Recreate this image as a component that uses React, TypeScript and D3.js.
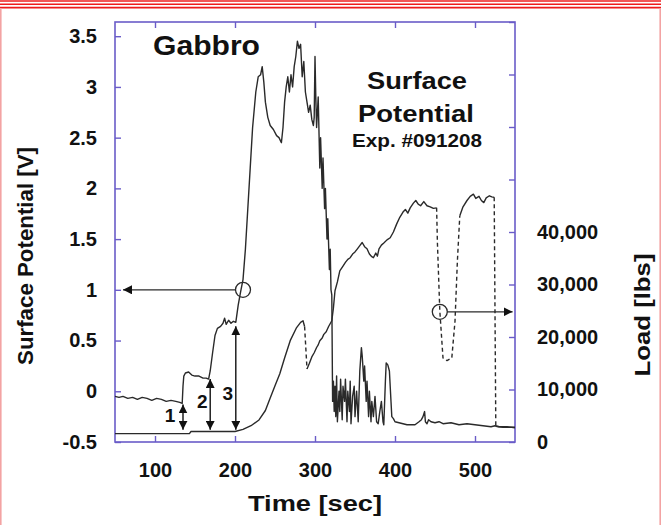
import * as d3 from 'd3';
import React, { useRef, useEffect } from 'react';

const width = 661;
const height = 525;
const frame = { left: 115, right: 515, top: 22, bottom: 442 };
const axisColor = '#6a5cc8';
const lineColor = '#2a2a2a';
const font = '"Liberation Sans", Arial, Helvetica, sans-serif';

const timeDomain = [50, 550];
const potentialDomain = [-0.5, 3.64];
const loadDomain = [0, 80000];

const timeTicks = [100, 200, 300, 400, 500];
const potentialTicks = [-0.5, 0, 0.5, 1, 1.5, 2, 2.5, 3, 3.5];
const loadTicks = [0, 10000, 20000, 30000, 40000, 50000, 60000, 70000, 80000];
const loadLabelMax = 40000;

// surface potential [V] against time [sec]
const potential: [number, number][] = [
  [50, -0.05], [55, -0.06], [60, -0.05], [66, -0.07], [72, -0.06], [78, -0.08], [84, -0.06],
  [90, -0.07], [96, -0.09], [102, -0.07], [108, -0.08], [114, -0.1], [120, -0.09], [126, -0.1],
  [131, -0.11], [134, -0.12], [135, 0.05], [136, 0.15], [138, 0.18], [142, 0.19], [146, 0.16],
  [150, 0.15], [155, 0.15], [160, 0.13], [164, 0.13], [167, 0.12], [169, 0.2], [172, 0.38],
  [175, 0.55], [178, 0.62], [182, 0.64], [185, 0.67], [187, 0.72], [189, 0.66], [192, 0.7],
  [195, 0.67], [198, 0.69], [201, 0.68], [204, 0.85], [207, 0.98], [210, 1.1], [213, 1.4],
  [216, 1.8], [219, 2.2], [222, 2.6], [226, 2.95], [229, 3.1], [232, 3.12], [234, 3.2],
  [236, 3.05], [238, 2.85], [241, 2.7], [244, 2.62], [248, 2.58], [252, 2.52], [255, 2.5],
  [258, 2.45], [260, 2.6], [262, 2.85], [264, 3.0], [266, 3.1], [268, 2.95], [270, 3.12],
  [272, 3.0], [274, 3.2], [276, 3.3], [278, 3.45], [280, 3.38], [282, 3.42], [284, 3.1],
  [286, 3.25], [288, 2.95], [290, 2.85], [292, 2.75], [294, 2.82], [296, 2.68], [298, 2.62],
  [299, 2.7], [300, 3.3], [301, 2.9], [302, 2.6], [304, 2.9], [306, 2.2], [307, 2.5],
  [309, 2.0], [310, 2.3], [312, 1.8], [313, 2.0], [315, 1.5], [316, 1.7], [318, 1.2],
  [319, 1.4], [320, 1.0], [321, 0.95], [322, -0.1], [323, 0.1], [324, -0.2], [325, 0.05],
  [326, -0.25], [327, 0.15], [328, -0.3], [330, 0.0], [331, -0.2], [332, 0.12], [334, -0.28],
  [335, 0.05], [337, -0.1], [338, 0.12], [340, -0.3], [341, 0.0], [343, -0.2], [344, 0.1],
  [345, -0.32], [347, -0.05], [349, 0.05], [350, -0.25], [352, 0.0], [354, -0.3], [356, 0.2],
  [358, 0.43], [359, 0.35], [361, 0.1], [362, 0.25], [364, -0.1], [365, 0.1], [367, -0.25],
  [368, 0.0], [370, -0.3], [371, -0.1], [373, -0.25], [375, -0.05], [377, -0.3], [379, -0.32],
  [381, -0.2], [383, -0.1], [385, -0.3], [386, -0.33], [388, 0.1], [389, 0.28], [391, 0.26],
  [393, 0.2], [395, -0.1], [396, -0.25], [398, -0.27], [400, -0.3], [405, -0.31], [410, -0.32],
  [415, -0.33], [420, -0.33], [425, -0.33], [430, -0.3], [433, -0.28], [435, -0.25], [437, -0.2],
  [438, -0.3], [440, -0.32], [442, -0.28], [445, -0.3], [450, -0.31], [455, -0.3], [460, -0.32],
  [470, -0.31], [480, -0.33], [490, -0.32], [500, -0.33], [510, -0.34], [520, -0.35],
  [525, -0.34], [530, -0.35], [540, -0.35], [550, -0.36],
];

// load [lbs] against time [sec]
const load: [number, number][] = [
  [50, 1600], [143, 1600], [145, 2000], [200, 2000], [210, 2400], [220, 3100], [230, 4200],
  [238, 6000], [244, 8400], [250, 10700], [256, 13000], [262, 16000], [269, 19300],
  [277, 21800], [282, 22800], [285, 23100], [287, 22000], [290, 13900], [293, 15000],
  [296, 16200], [299, 17000], [302, 18000], [304, 18500], [306, 19300], [309, 19800],
  [311, 20500], [314, 21000], [317, 22000], [321, 23100], [323, 25500], [325, 28800],
  [328, 30500], [331, 32600], [335, 33500], [338, 34200], [341, 34800], [344, 35100],
  [347, 35800], [350, 36200], [353, 36800], [356, 37400], [359, 38000], [362, 37200],
  [365, 36800], [368, 35800], [371, 35300], [373, 35100], [376, 36000], [378, 35400],
  [380, 36800], [383, 37500], [386, 37900], [390, 38500], [394, 38900], [398, 40000],
  [402, 41500], [406, 42800], [410, 43800], [413, 44300], [416, 43600], [419, 44600],
  [423, 45500], [426, 46000], [429, 45300], [432, 45000], [436, 45800], [440, 45000],
  [444, 44800], [448, 44500], [452, 44600], [453, 38000], [456, 25000], [460, 16000],
  [465, 15500], [471, 16000], [475, 23000], [478, 34500], [481, 43100], [485, 44800],
  [490, 46000], [494, 46800], [498, 47200], [501, 46400], [505, 46800], [508, 46000],
  [511, 45600], [514, 46500], [518, 46900], [521, 46700], [524, 46600], [526, 3000],
  [535, 2800], [550, 2800],
];
// time ranges where the load trace is dashed
const loadDashed: [number, number][] = [[287, 290], [452, 481], [524, 526]];

// marked points on each curve, arrows point to their axis
const potentialMark: [number, number] = [210, 1.0];
const potentialArrowTip = 60;
const loadMark: [number, number] = [456, 24800];
const loadArrowTip = 547;

// numbered step arrows: time, top potential, bottom potential
const stepLabels = ['1', '2', '3'];
const stepTimes = [135, 169, 201];
const stepTops = [-0.13, 0.12, 0.64];
const stepBottom = -0.38;

const App = () => {
  const svgRef = useRef<SVGSVGElement>(null);

  useEffect(() => {
    const x = d3.scaleLinear().domain(timeDomain).range([frame.left, frame.right]);
    const yV = d3.scaleLinear().domain(potentialDomain).range([frame.bottom, frame.top]);
    const yL = d3.scaleLinear().domain(loadDomain).range([frame.bottom, frame.top]);

    const svg = d3.select(svgRef.current);
    svg.selectAll('*').remove();

    svg.append('rect').attr('width', width).attr('height', height).attr('fill', '#fff');

    // red page border
    [1, 4.3, 7.6].forEach(y => {
      svg.append('line')
        .attr('x1', 0).attr('x2', width).attr('y1', y).attr('y2', y)
        .attr('stroke', '#ee1c1c').attr('stroke-width', 1.6);
    });
    [0.8, width - 0.8].forEach(xx => {
      svg.append('line')
        .attr('x1', xx).attr('x2', xx).attr('y1', 8).attr('y2', height)
        .attr('stroke', '#f3a3a3').attr('stroke-width', 1.6);
    });

    const defs = svg.append('defs');
    defs.append('marker')
      .attr('id', 'head')
      .attr('viewBox', '0 0 10 10')
      .attr('refX', 10).attr('refY', 5)
      .attr('markerWidth', 9).attr('markerHeight', 9)
      .attr('markerUnits', 'userSpaceOnUse')
      .attr('orient', 'auto-start-reverse')
      .append('path').attr('d', 'M0,0L10,5L0,10z').attr('fill', '#111');

    const styleAxis = (g: any) => {
      g.select('.domain').remove();
      g.selectAll('.tick line').attr('stroke', axisColor).attr('stroke-width', 1.4);
      g.selectAll('text')
        .attr('fill', '#111')
        .style('font-family', font)
        .style('font-weight', 'bold')
        .style('font-size', '20px');
    };

    svg.append('g')
      .attr('transform', `translate(0,${frame.bottom})`)
      .call(d3.axisBottom(x).tickValues(timeTicks).tickSizeInner(-6).tickSizeOuter(0).tickPadding(21))
      .call(styleAxis);
    svg.append('g')
      .attr('transform', `translate(0,${frame.top})`)
      .call(d3.axisTop(x).tickValues(timeTicks).tickSizeInner(-6).tickSizeOuter(0).tickFormat(() => ''))
      .call(styleAxis);
    svg.append('g')
      .attr('transform', `translate(${frame.left},0)`)
      .call(d3.axisLeft(yV).tickValues(potentialTicks).tickSizeInner(-6).tickSizeOuter(0)
        .tickPadding(18).tickFormat((d: any) => String(d)))
      .call(styleAxis);
    svg.append('g')
      .attr('transform', `translate(${frame.right},0)`)
      .call(d3.axisRight(yL).tickValues(loadTicks).tickSizeInner(-6).tickSizeOuter(0)
        .tickPadding(22).tickFormat((d: any) => (d <= loadLabelMax ? d3.format(',')(d) : '')))
      .call(styleAxis);

    svg.append('rect')
      .attr('x', frame.left).attr('y', frame.top)
      .attr('width', frame.right - frame.left).attr('height', frame.bottom - frame.top)
      .attr('fill', 'none').attr('stroke', axisColor).attr('stroke-width', 1.6);

    // potential trace
    svg.append('path')
      .attr('d', d3.line<[number, number]>().x(d => x(d[0])).y(d => yV(d[1]))(potential))
      .attr('fill', 'none').attr('stroke', lineColor).attr('stroke-width', 1.4)
      .attr('stroke-linejoin', 'round');

    // load trace, split into solid and dashed runs
    const isDashed = (a: number, b: number) => {
      const m = (a + b) / 2;
      return loadDashed.some(([s, e]) => m >= s && m <= e);
    };
    const runs: { dashed: boolean; pts: [number, number][] }[] = [];
    for (let i = 0; i < load.length - 1; ++i) {
      const dashed = isDashed(load[i][0], load[i + 1][0]);
      const last = runs[runs.length - 1];
      if (last && last.dashed === dashed) last.pts.push(load[i + 1]);
      else runs.push({ dashed, pts: [load[i], load[i + 1]] });
    }
    const loadLine = d3.line<[number, number]>().x(d => x(d[0])).y(d => yL(d[1]));
    runs.forEach(r => {
      svg.append('path')
        .attr('d', loadLine(r.pts))
        .attr('fill', 'none').attr('stroke', lineColor).attr('stroke-width', 1.4)
        .attr('stroke-linejoin', 'round')
        .attr('stroke-dasharray', r.dashed ? '4,3' : null);
    });

    // circled marks with arrows to their axis
    const r = 7.5;
    const pmx = x(potentialMark[0]);
    const pmy = yV(potentialMark[1]);
    svg.append('circle').attr('cx', pmx).attr('cy', pmy).attr('r', r)
      .attr('fill', 'none').attr('stroke', lineColor).attr('stroke-width', 1.3);
    svg.append('line')
      .attr('x1', pmx - r).attr('y1', pmy).attr('x2', x(potentialArrowTip)).attr('y2', pmy)
      .attr('stroke', lineColor).attr('stroke-width', 1.3).attr('marker-end', 'url(#head)');
    const lmx = x(loadMark[0]);
    const lmy = yL(loadMark[1]);
    svg.append('circle').attr('cx', lmx).attr('cy', lmy).attr('r', r)
      .attr('fill', 'none').attr('stroke', lineColor).attr('stroke-width', 1.3);
    svg.append('line')
      .attr('x1', lmx + r).attr('y1', lmy).attr('x2', x(loadArrowTip)).attr('y2', lmy)
      .attr('stroke', lineColor).attr('stroke-width', 1.3).attr('marker-end', 'url(#head)');

    // numbered steps
    const labelShift = [-13, -8, -8];
    const labelBase = [422, 408, 400];
    stepTimes.forEach((t, i) => {
      svg.append('line')
        .attr('x1', x(t)).attr('x2', x(t))
        .attr('y1', yV(stepTops[i])).attr('y2', yV(stepBottom))
        .attr('stroke', '#111').attr('stroke-width', 1.4)
        .attr('marker-start', 'url(#head)').attr('marker-end', 'url(#head)');
      svg.append('text')
        .attr('x', x(t) + labelShift[i]).attr('y', labelBase[i])
        .attr('text-anchor', 'middle')
        .style('font-family', font).style('font-weight', 'bold').style('font-size', '19px')
        .attr('fill', '#111')
        .text(stepLabels[i]);
    });

    // titles
    const title = (txt: string, tx: number, ty: number, size: number, len: number, anchor = 'middle') =>
      svg.append('text')
        .attr('x', tx).attr('y', ty)
        .attr('text-anchor', anchor)
        .attr('textLength', len).attr('lengthAdjust', 'spacingAndGlyphs')
        .style('font-family', font).style('font-weight', 'bold').style('font-size', `${size}px`)
        .attr('fill', '#111')
        .text(txt);

    title('Gabbro', 153, 55, 28, 107, 'start');
    title('Surface', 417, 89, 23, 100);
    title('Potential', 416, 122, 23, 116);
    title('Exp. #091208', 417, 147, 18, 130);
    title('Time [sec]', 315, 511, 22, 134);
    title('Surface Potential [V]', 0, 0, 22, 218)
      .attr('transform', 'translate(33,256) rotate(-90)');
    title('Load [lbs]', 0, 0, 22, 123)
      .attr('transform', 'translate(650,315) rotate(-90)');
  }, []);

  return (
    <svg
      ref={svgRef}
      width={width}
      height={height}
      style={{ position: 'absolute', left: 0, top: 0 }}
    />
  );
};

export default App;
